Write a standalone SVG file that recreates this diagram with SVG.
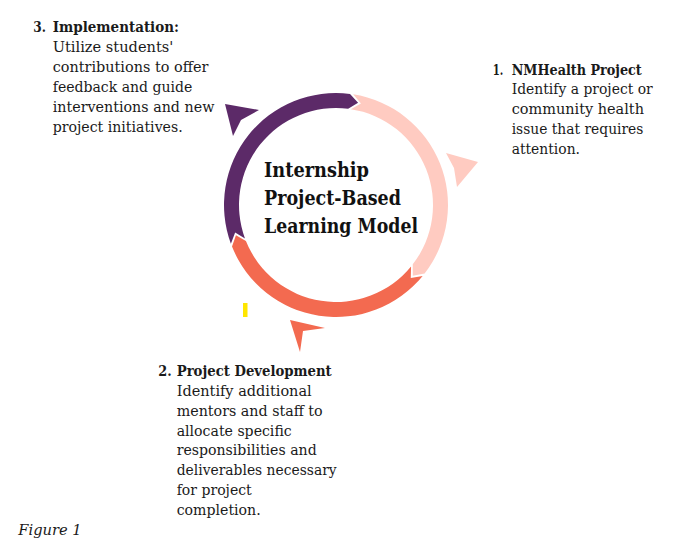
<svg xmlns="http://www.w3.org/2000/svg" width="682" height="546" viewBox="0 0 682 546">
<style>
  .t { font-family: "DejaVu Serif", "Liberation Serif", serif; font-size: 14px; fill: #1a1a1a; }
  .b { font-weight: bold; }
  .title { font-family: "DejaVu Serif", "Liberation Serif", serif; font-size: 20.5px; font-weight: bold; fill: #111111; }
  .fig { font-family: "DejaVu Serif", "Liberation Serif", serif; font-size: 15px; font-style: italic; fill: #1a1a1a; }
  .purple { fill: #5C2A68; }
  .pink { fill: #FFCBC1; }
  .orange { fill: #F36A50; }
</style>
<rect width="682" height="546" fill="#ffffff"/>
<g id="connectors">
  <path class="purple" d="M230.89,243.67 A112,112 0 0 1 350.03,93.88 L358.08,102.86 L348.15,108.77 A97,97 0 0 0 244.97,238.49 L235.16,232.40 Z"/>
  <path class="pink" d="M353.14,94.32 A112,112 0 0 1 424.61,273.49 L412.80,275.87 L412.75,264.32 A97,97 0 0 0 350.84,109.14 L360.92,103.52 Z"/>
  <path class="orange" d="M422.67,275.94 A112,112 0 0 1 232.01,246.60 L235.96,235.20 L245.94,241.03 A97,97 0 0 0 411.06,266.44 L410.79,277.98 Z"/>
  <polygon class="purple" points="225,104 259,110 241,120 233,136"/>
  <polygon class="pink" points="446,153 478,162 457,187 454,168"/>
  <polygon class="orange" points="290,320 325,328 303,331 300,352"/>
  <rect x="243" y="303" width="4.5" height="14" fill="#FFE600"/>
</g>
<g id="center">
  <text class="title" x="264" y="177" textLength="105" lengthAdjust="spacingAndGlyphs">Internship</text>
  <text class="title" x="264" y="205" textLength="137" lengthAdjust="spacingAndGlyphs">Project-Based</text>
  <text class="title" x="264" y="233" textLength="154" lengthAdjust="spacingAndGlyphs">Learning Model</text>
</g>
<g id="step3">
  <text class="t b" x="33.3" y="31.5" textLength="12.7" lengthAdjust="spacingAndGlyphs">3.</text>
  <text class="t b" x="52.7" y="31.5" textLength="126.3" lengthAdjust="spacingAndGlyphs">Implementation:</text>
  <text class="t" x="52.7" y="51.5" textLength="120.6" lengthAdjust="spacingAndGlyphs">Utilize students'</text>
  <text class="t" x="52.7" y="71.5" textLength="155.7" lengthAdjust="spacingAndGlyphs">contributions to offer</text>
  <text class="t" x="52.7" y="91.5" textLength="139.7" lengthAdjust="spacingAndGlyphs">feedback and guide</text>
  <text class="t" x="52.7" y="111.5" textLength="161.7" lengthAdjust="spacingAndGlyphs">interventions and new</text>
  <text class="t" x="52.7" y="131.5" textLength="130" lengthAdjust="spacingAndGlyphs">project initiatives.</text>
</g>
<g id="step1">
  <text class="t b" x="492.7" y="74.5" textLength="10.6" lengthAdjust="spacingAndGlyphs">1.</text>
  <text class="t b" x="511.7" y="74.5" textLength="130" lengthAdjust="spacingAndGlyphs">NMHealth Project</text>
  <text class="t" x="511.7" y="94.3" textLength="141" lengthAdjust="spacingAndGlyphs">Identify a project or</text>
  <text class="t" x="511.7" y="114" textLength="132.3" lengthAdjust="spacingAndGlyphs">community health</text>
  <text class="t" x="511.7" y="133.8" textLength="131.7" lengthAdjust="spacingAndGlyphs">issue that requires</text>
  <text class="t" x="511.7" y="153.5" textLength="68.3" lengthAdjust="spacingAndGlyphs">attention.</text>
</g>
<g id="step2">
  <text class="t b" x="158.3" y="376" textLength="13.4" lengthAdjust="spacingAndGlyphs">2.</text>
  <text class="t b" x="176.7" y="376" textLength="155" lengthAdjust="spacingAndGlyphs">Project Development</text>
  <text class="t" x="176.7" y="396" textLength="135" lengthAdjust="spacingAndGlyphs">Identify additional</text>
  <text class="t" x="176.7" y="415.7" textLength="146" lengthAdjust="spacingAndGlyphs">mentors and staff to</text>
  <text class="t" x="176.7" y="435.7" textLength="115" lengthAdjust="spacingAndGlyphs">allocate specific</text>
  <text class="t" x="176.7" y="455.3" textLength="140" lengthAdjust="spacingAndGlyphs">responsibilities and</text>
  <text class="t" x="176.7" y="475" textLength="160" lengthAdjust="spacingAndGlyphs">deliverables necessary</text>
  <text class="t" x="176.7" y="495" textLength="75" lengthAdjust="spacingAndGlyphs">for project</text>
  <text class="t" x="176.7" y="515" textLength="84" lengthAdjust="spacingAndGlyphs">completion.</text>
</g>
<g id="caption">
  <text class="fig" x="18.3" y="535" textLength="63.4" lengthAdjust="spacingAndGlyphs">Figure 1</text>
</g>
</svg>
